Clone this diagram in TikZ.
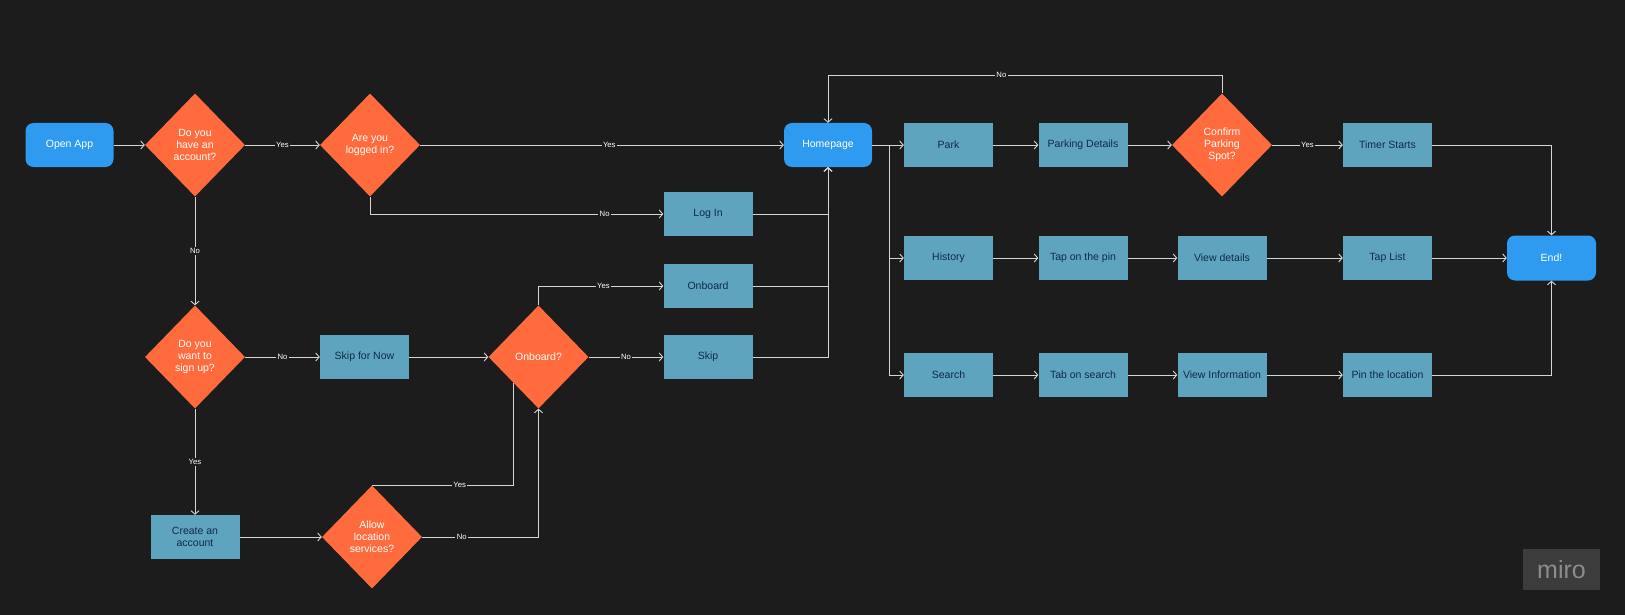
\documentclass[tikz,border=0pt]{standalone}
\usepackage{fontspec}
\setmainfont{Liberation Sans}
\usepackage{tikz}
\usetikzlibrary{arrows.meta,shapes.geometric}
\definecolor{fcBack}{HTML}{1C1C1C}
\definecolor{fcBlue}{HTML}{2F9BF0}
\definecolor{fcTeal}{HTML}{5FA4BE}
\definecolor{fcOrange}{HTML}{FF6B3D}
\definecolor{fcNavy}{HTML}{0E2A4A}
\definecolor{fcLine}{HTML}{D6D6D6}
\definecolor{fcMark}{HTML}{3C3C3C}
\definecolor{fcMarkText}{HTML}{8C8C8C}
\tikzset{
  fc diagram/.style={x=1pt, y=-1pt, font=\fontsize{10.5}{12}\selectfont},
  fc terminal/.style={fill=fcBlue, text=white, rounded corners=8pt,
    minimum width=88pt, minimum height=44pt, inner sep=2pt, align=center},
  fc box/.style={fill=fcTeal, text=fcNavy, minimum width=89pt,
    minimum height=44pt, inner sep=2pt, align=center},
  fc decision/.style={diamond, fill=fcOrange, text=white, minimum width=100pt,
    minimum height=103pt, inner sep=0pt, align=center},
  fc arrow/.style={-{Straight Barb[length=3.5pt,width=8pt]}, draw=fcLine, line width=0.9pt},
  fc line/.style={draw=fcLine, line width=0.9pt},
  fc label/.style={fill=fcBack, text=white, font=\fontsize{7.7}{9}\selectfont, inner sep=1.5pt}
}
\begin{document}
\begin{tikzpicture}[fc diagram]
\fill[fcBack] (0,0) rectangle (1625,615);
% left part: account and onboarding
\node[fc terminal] (openapp) at (69.5,145) {Open App};
\node[fc decision] (hasacc) at (195,145) {Do you\\have an\\account?};
\node[fc decision] (logged) at (370,145) {Are you\\logged in?};
\node[fc decision] (signup) at (195,357) {Do you\\want to\\sign up?};
\node[fc box] (skipnow) at (364.5,357) {Skip for Now};
\node[fc box] (create) at (195,537) {Create an\\account};
\node[fc decision] (allow) at (372,537) {Allow\\location\\services?};
\node[fc decision] (onbq) at (538.5,357) {Onboard?};
\node[fc box] (login) at (708,214) {Log In};
\node[fc box] (onboard) at (708,286) {Onboard};
\node[fc box] (skip) at (708,357) {Skip};
\node[fc terminal] (home) at (828,145) {Homepage};
% right part: three flows
\node[fc box] (park) at (948.5,145) {Park};
\node[fc box] (details) at (1083,145) {Parking Details};
\node[fc decision] (confirm) at (1222,145) {Confirm\\Parking\\Spot?};
\node[fc box] (timer) at (1387.5,145) {Timer Starts};
\node[fc box] (history) at (948.5,258) {History};
\node[fc box] (tappin) at (1083,258) {Tap on the pin};
\node[fc box] (viewdet) at (1222,258) {View details};
\node[fc box] (taplist) at (1387.5,258) {Tap List};
\node[fc box] (search) at (948.5,375) {Search};
\node[fc box] (tabsearch) at (1083,375) {Tab on search};
\node[fc box] (viewinfo) at (1222,375) {View Information};
\node[fc box] (pinloc) at (1387.5,375) {Pin the location};
\node[fc terminal, minimum width=89pt, minimum height=45pt] (finish) at (1551.5,258) {End!};
\node[fill=fcMark, text=fcMarkText, minimum width=77pt, minimum height=41pt,
  font=\fontsize{25}{25}\selectfont] (miro) at (1561.5,569.5) {miro};
\coordinate (fork) at (889,145);
\coordinate (noback) at (828,75);
% connectors
\draw[fc arrow] (openapp) -- (hasacc);
\draw[fc arrow] (hasacc) -- node[fc label]{Yes} (logged);
\draw[fc arrow] (hasacc) -- node[fc label]{No} (signup);
\draw[fc arrow] (logged) -- node[fc label,pos=0.52]{Yes} (home);
\draw[fc arrow] (logged.south) |- node[fc label,pos=0.9]{No} (login);
\draw[fc arrow] (signup) -- node[fc label]{No} (skipnow);
\draw[fc arrow] (signup) -- node[fc label]{Yes} (create);
\draw[fc arrow] (skipnow) -- (onbq);
\draw[fc arrow] (create) -- (allow);
\draw[fc line] (allow.north) -| node[fc label,pos=0.31]{Yes} (onbq.south west);
\draw[fc arrow] (allow.east) -| node[fc label,pos=0.17]{No} (onbq.south);
\draw[fc arrow] (onbq.north) |- node[fc label,pos=0.76]{Yes} (onboard);
\draw[fc arrow] (onbq) -- node[fc label]{No} (skip);
\draw[fc arrow] (login.east) -| (home.south);
\draw[fc arrow] (onboard.east) -| (home.south);
\draw[fc arrow] (skip.east) -| (home.south);
\draw[fc arrow] (home) -- (park);
\draw[fc arrow] (fork) |- (history);
\draw[fc arrow] (fork) |- (search);
\draw[fc arrow] (park) -- (details);
\draw[fc arrow] (details) -- (confirm);
\draw[fc arrow] (confirm) -- node[fc label]{Yes} (timer);
\draw[fc arrow] (confirm.north) |- node[fc label,pos=0.78]{No} (noback) -- (home.north);
\draw[fc arrow] (history) -- (tappin);
\draw[fc arrow] (tappin) -- (viewdet);
\draw[fc arrow] (viewdet) -- (taplist);
\draw[fc arrow] (search) -- (tabsearch);
\draw[fc arrow] (tabsearch) -- (viewinfo);
\draw[fc arrow] (viewinfo) -- (pinloc);
\draw[fc arrow] (timer.east) -| (finish.north);
\draw[fc arrow] (taplist) -- (finish);
\draw[fc arrow] (pinloc.east) -| (finish.south);
\end{tikzpicture}
\end{document}
